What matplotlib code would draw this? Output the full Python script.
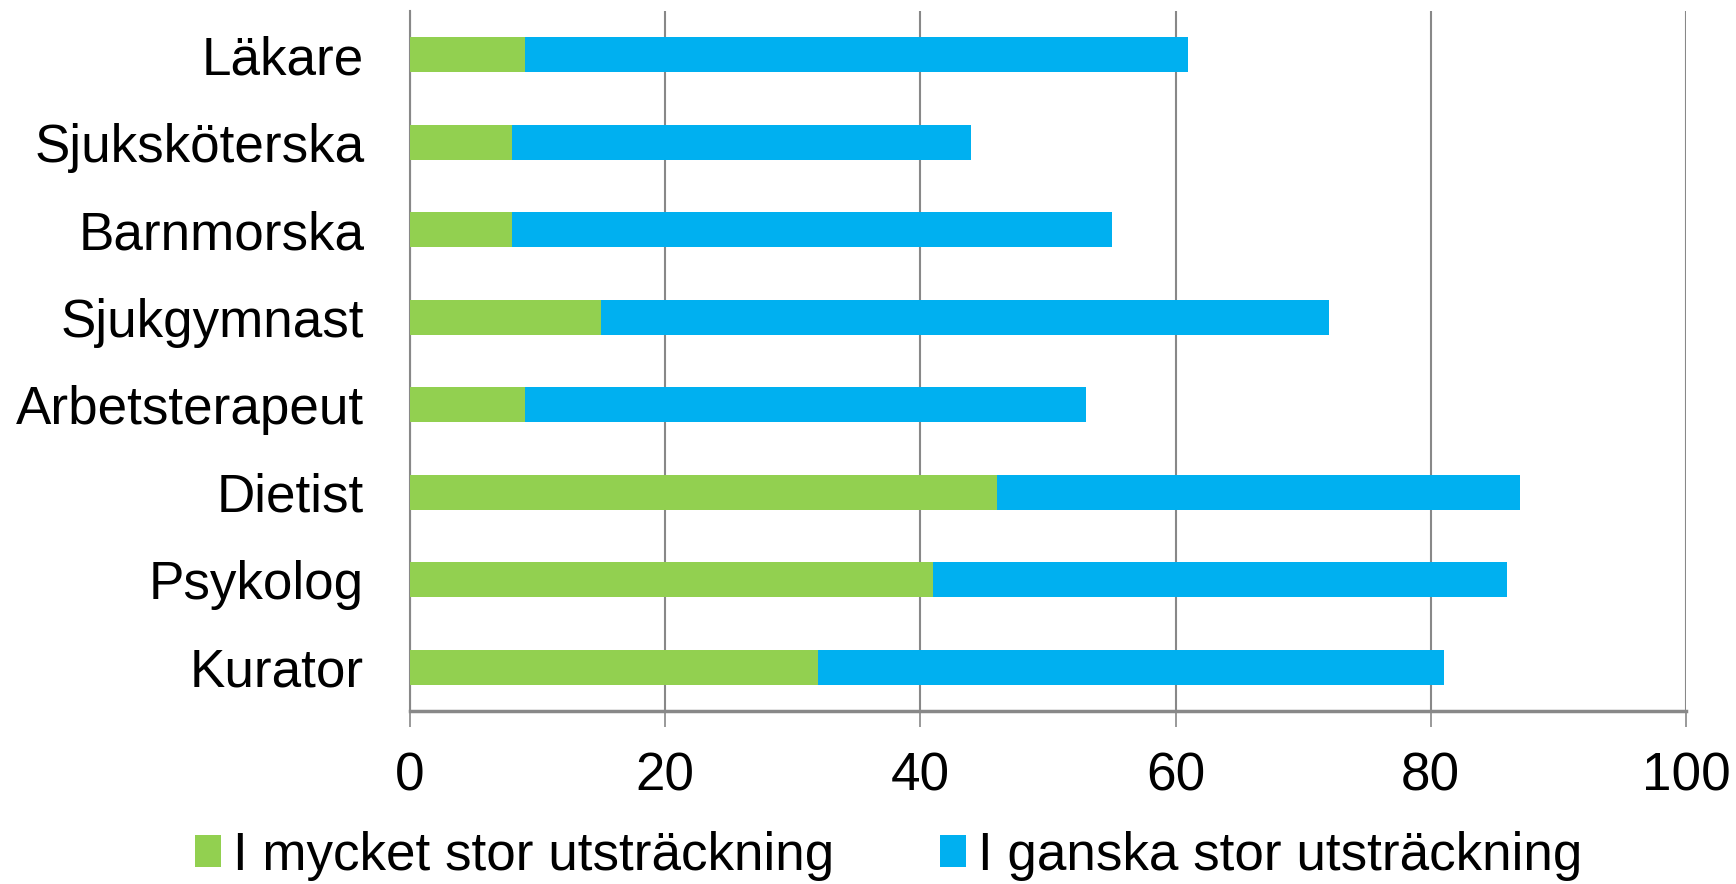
import matplotlib
matplotlib.use('Agg')
import matplotlib.pyplot as plt
import numpy as np

plt.rcParams['font.family'] = ['Liberation Sans', 'DejaVu Sans']

# data
categories = ["Läkare", "Sjuksköterska", "Barnmorska", "Sjukgymnast",
              "Arbetsterapeut", "Dietist", "Psykolog", "Kurator"]
very_large = [9, 8, 8, 15, 9, 46, 41, 32]
fairly_large = [52, 36, 47, 57, 44, 41, 45, 49]
series_names = ["I mycket stor utsträckning", "I ganska stor utsträckning"]
xticks = [0, 20, 40, 60, 80, 100]

green = "#92D050"
blue = "#00B0F0"
grid_col = "#888888"
fs = 38.2

fig = plt.figure(figsize=(17.36, 8.84), dpi=100)
ax = fig.add_axes([0.2362, 0.1957, 0.9712 - 0.2362, 0.9876 - 0.1957])

y = np.arange(len(categories))
ax.barh(y, very_large, height=0.4, color=green, label=series_names[0], zorder=3)
ax.barh(y, fairly_large, left=very_large, height=0.4, color=blue,
        label=series_names[1], zorder=3)

ax.set_ylim(len(categories) - 0.5, -0.5)
ax.set_xlim(0, 100)
ax.set_yticks(y)
ax.set_yticklabels(categories, fontsize=fs)
ax.set_xticks(xticks)
ax.set_xticklabels([str(t) for t in xticks], fontsize=fs)

ax.grid(axis='x', color=grid_col, linewidth=1.5, zorder=0)
for s in ['top', 'right']:
    ax.spines[s].set_visible(False)
ax.spines['left'].set_color(grid_col)
ax.spines['left'].set_linewidth(1.5)
ax.spines['bottom'].set_color(grid_col)
ax.spines['bottom'].set_linewidth(2.5)
ax.tick_params(axis='y', length=0, pad=33)
ax.tick_params(axis='x', length=11.5, width=1.2, color=grid_col, pad=18)

fig.legend(loc='center', bbox_to_anchor=(0.512, 0.032), ncol=2, frameon=False,
           fontsize=fs, handlelength=0.48, handleheight=0.55,
           handletextpad=0.23, columnspacing=2.0, borderpad=0)

plt.savefig("out.png", dpi=100)
